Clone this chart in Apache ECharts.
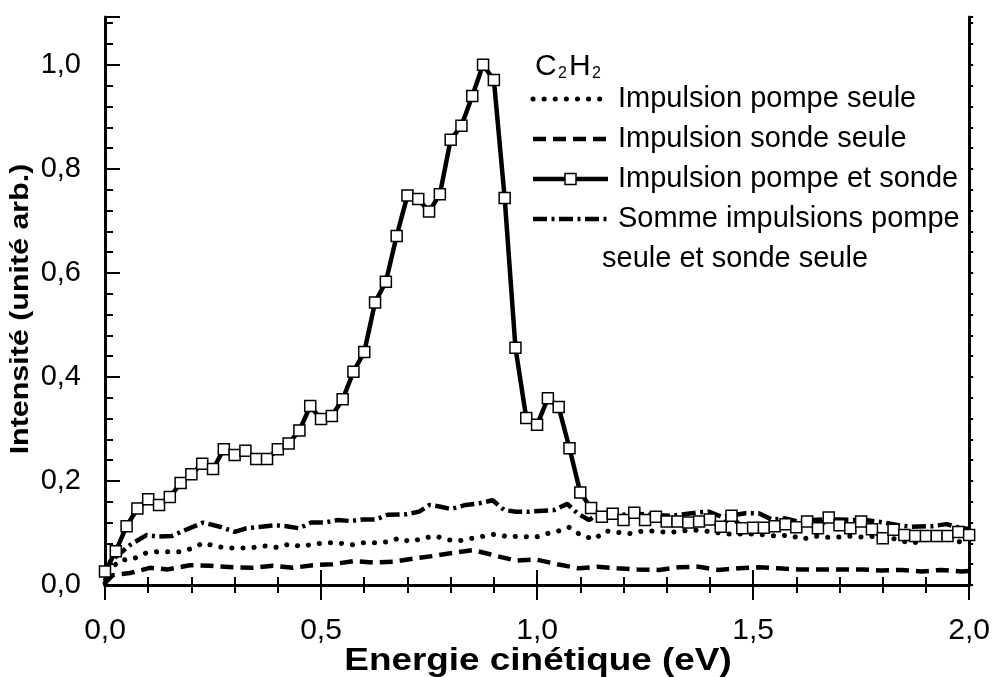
<!DOCTYPE html>
<html>
<head>
<meta charset="utf-8">
<script src="https://cdn.jsdelivr.net/npm/echarts@6/dist/echarts.min.js"></script>
<style>
  html, body { margin: 0; padding: 0; background: #fff; }
  #chart { width: 993px; height: 677px; }
</style>
</head>
<body>
<div id="chart"></div>
<script>
// Energie cinétique (eV) des points mesurés, pompe + sonde
const energiePompeSonde = [
  0.000, 0.025, 0.050, 0.075, 0.100, 0.125, 0.150, 0.175, 0.200, 0.225,
  0.250, 0.275, 0.300, 0.325, 0.350, 0.375, 0.400, 0.425, 0.450, 0.475,
  0.500, 0.525, 0.550, 0.575, 0.600, 0.625, 0.650, 0.675, 0.700, 0.725,
  0.750, 0.775, 0.800, 0.825, 0.850, 0.875, 0.900, 0.925, 0.950, 0.975,
  1.000, 1.025, 1.050, 1.075, 1.100, 1.125, 1.150, 1.175, 1.200, 1.225,
  1.250, 1.275, 1.300, 1.325, 1.350, 1.375, 1.400, 1.425, 1.450, 1.475,
  1.500, 1.525, 1.550, 1.575, 1.600, 1.625, 1.650, 1.675, 1.700, 1.725,
  1.750, 1.775, 1.800, 1.825, 1.850, 1.875, 1.900, 1.925, 1.950, 1.975,
  2.000
];
const intensitePompeSonde = [
  0.026, 0.065, 0.113, 0.147, 0.165, 0.154, 0.169, 0.196, 0.213, 0.233,
  0.223, 0.261, 0.250, 0.258, 0.242, 0.242, 0.261, 0.272, 0.297, 0.344,
  0.319, 0.325, 0.357, 0.410, 0.448, 0.543, 0.583, 0.671, 0.749, 0.742,
  0.718, 0.751, 0.856, 0.883, 0.940, 1.000, 0.971, 0.744, 0.456, 0.321,
  0.308, 0.359, 0.342, 0.263, 0.178, 0.148, 0.131, 0.137, 0.125, 0.139,
  0.125, 0.131, 0.122, 0.122, 0.120, 0.122, 0.126, 0.112, 0.133, 0.109,
  0.110, 0.110, 0.113, 0.117, 0.111, 0.122, 0.109, 0.130, 0.115, 0.109,
  0.122, 0.107, 0.090, 0.106, 0.096, 0.094, 0.094, 0.094, 0.094, 0.102,
  0.096
];

// Impulsion pompe seule
const energiePompe = [
  0.000, 0.004, 0.035, 0.062, 0.096, 0.123, 0.150, 0.173, 0.204, 0.227,
  0.254, 0.281, 0.308, 0.342, 0.370, 0.400, 0.427, 0.454, 0.485, 0.512,
  0.539, 0.570, 0.597, 0.624, 0.654, 0.681, 0.708, 0.735, 0.766, 0.793,
  0.820, 0.851, 0.878, 0.905, 0.935, 0.962, 0.993, 1.024, 1.047, 1.074,
  1.101, 1.132, 1.159, 1.189, 1.216, 1.247, 1.274, 1.301, 1.332, 1.359,
  1.386, 1.443, 1.501, 1.555, 1.586, 1.613, 1.644, 1.670, 1.697, 1.728,
  1.755, 1.786, 1.821, 1.867, 1.898, 1.921, 1.952, 1.978, 2.000
];
const intensitePompe = [
  0.004, 0.023, 0.048, 0.049, 0.062, 0.064, 0.064, 0.064, 0.071, 0.081,
  0.075, 0.071, 0.071, 0.072, 0.075, 0.072, 0.079, 0.074, 0.079, 0.081,
  0.081, 0.077, 0.081, 0.081, 0.083, 0.090, 0.083, 0.090, 0.094, 0.087,
  0.085, 0.090, 0.094, 0.098, 0.092, 0.094, 0.091, 0.099, 0.103, 0.111,
  0.096, 0.088, 0.104, 0.101, 0.099, 0.104, 0.104, 0.101, 0.103, 0.106,
  0.104, 0.098, 0.098, 0.094, 0.096, 0.088, 0.094, 0.092, 0.092, 0.094,
  0.092, 0.094, 0.090, 0.080, 0.087, 0.087, 0.087, 0.083, 0.085
];

// Impulsion sonde seule
const energieSonde = [
  0.000, 0.018, 0.058, 0.104, 0.146, 0.196, 0.242, 0.296, 0.339, 0.389,
  0.435, 0.481, 0.527, 0.577, 0.624, 0.670, 0.716, 0.762, 0.808, 0.851,
  0.882, 0.905, 0.951, 0.997, 1.047, 1.097, 1.139, 1.185, 1.232, 1.282,
  1.328, 1.374, 1.420, 1.467, 1.513, 1.559, 1.605, 1.659, 1.705, 1.751,
  1.797, 1.844, 1.890, 1.936, 1.982, 2.000
];
const intensiteSonde = [
  0.004, 0.019, 0.023, 0.033, 0.030, 0.038, 0.037, 0.034, 0.033, 0.037,
  0.033, 0.038, 0.040, 0.046, 0.043, 0.045, 0.051, 0.056, 0.062, 0.067,
  0.061, 0.056, 0.047, 0.049, 0.040, 0.032, 0.035, 0.032, 0.030, 0.029,
  0.034, 0.035, 0.029, 0.032, 0.034, 0.032, 0.030, 0.030, 0.030, 0.030,
  0.028, 0.029, 0.026, 0.029, 0.026, 0.027
];

// Somme impulsions pompe seule et sonde seule
const energieSomme = [
  0.000, 0.012, 0.058, 0.096, 0.123, 0.154, 0.181, 0.227, 0.266, 0.300,
  0.327, 0.362, 0.393, 0.420, 0.450, 0.477, 0.508, 0.539, 0.568, 0.597,
  0.627, 0.654, 0.697, 0.727, 0.751, 0.774, 0.801, 0.835, 0.866, 0.897,
  0.924, 0.951, 0.982, 1.039, 1.070, 1.093, 1.120, 1.132, 1.162, 1.193,
  1.232, 1.270, 1.309, 1.367, 1.397, 1.428, 1.482, 1.513, 1.543, 1.574,
  1.605, 1.636, 1.667, 1.697, 1.728, 1.759, 1.805, 1.836, 1.867, 1.913,
  1.948, 1.982, 2.000
];
const intensiteSomme = [
  0.008, 0.045, 0.077, 0.096, 0.093, 0.094, 0.104, 0.120, 0.112, 0.102,
  0.109, 0.112, 0.115, 0.113, 0.109, 0.120, 0.120, 0.125, 0.123, 0.126,
  0.126, 0.135, 0.136, 0.141, 0.154, 0.151, 0.146, 0.154, 0.157, 0.163,
  0.144, 0.141, 0.141, 0.144, 0.156, 0.138, 0.125, 0.131, 0.137, 0.135,
  0.137, 0.135, 0.133, 0.139, 0.141, 0.131, 0.138, 0.138, 0.126, 0.128,
  0.122, 0.125, 0.126, 0.126, 0.125, 0.125, 0.120, 0.115, 0.112, 0.113,
  0.117, 0.109, 0.108
];

// Graduations
const xTicks = { min: 0, max: 2, major: 0.5, minorSplit: 5 };
const yTicks = { min: 0, max: 1.092, major: 0.2, minor: 0.04 };

// Textes
const titreX = 'Energie cinétique (eV)';
const titreY = 'Intensité (unité arb.)';
const legendNames = [
  'Impulsion pompe seule',
  'Impulsion sonde seule',
  'Impulsion pompe et sonde',
  'Somme impulsions pompe'
];
const legendSuite = 'seule et sonde seule';

const pairs = (xs, ys) => xs.map((x, i) => [x, ys[i]]);
const virgule = v => v.toFixed(1).replace('.', ',');

const FONT = '"Liberation Sans", Arial, sans-serif';

// Styles de trait, partagés entre courbes et légende
const styles = [
  { width: 5, dash: [0.1, 11], cap: 'round' },
  { width: 4.5, dash: [13, 7], cap: 'butt' },
  { width: 4.5, dash: null, cap: 'butt' },
  { width: 4.5, dash: [14, 4.5, 3, 4.5], cap: 'butt' }
];

const chart = echarts.init(document.getElementById('chart'), null, { renderer: 'canvas' });

const frameLine = { show: true, lineStyle: { color: '#000', width: 3 } };
const tickStyle = { width: 2, color: '#000' };

// Légende dessinée à la main : trait de 75 px puis libellé
const legX0 = 533, legX1 = 608, legText = 618;
const legRows = [99, 139, 179, 219];
const legendGraphics = [];
legendNames.forEach((name, i) => {
  const s = styles[i];
  legendGraphics.push({
    type: 'line', z: 10,
    shape: { x1: legX0, y1: legRows[i], x2: legX1, y2: legRows[i] },
    style: { stroke: '#000', lineWidth: s.width, lineDash: s.dash, lineCap: s.cap }
  });
  if (i === 2) {
    legendGraphics.push({
      type: 'rect', z: 11,
      shape: { x: (legX0 + legX1) / 2 - 5.5, y: legRows[i] - 5.5, width: 11, height: 11 },
      style: { fill: '#fff', stroke: '#000', lineWidth: 1.5 }
    });
  }
  legendGraphics.push({
    type: 'text', z: 10, x: legText, y: legRows[i],
    style: { text: name, font: '29px ' + FONT, fill: '#000', verticalAlign: 'middle', align: 'left' }
  });
});
legendGraphics.push({
  type: 'text', z: 10, x: 602, y: 259,
  style: { text: legendSuite, font: '29px ' + FONT, fill: '#000', verticalAlign: 'middle', align: 'left' }
});

chart.setOption({
  animation: false,
  backgroundColor: '#fff',
  grid: { left: 105, right: 22, top: 17, bottom: 92 },
  xAxis: [
    {
      type: 'value', position: 'bottom',
      min: xTicks.min, max: xTicks.max, interval: xTicks.major,
      axisLine: frameLine,
      axisTick: { show: true, inside: true, length: 15, lineStyle: tickStyle },
      minorTick: { show: true, splitNumber: xTicks.minorSplit, length: 8, lineStyle: tickStyle },
      splitLine: { show: false },
      axisLabel: { formatter: virgule, fontFamily: FONT, fontSize: 30, color: '#000', margin: 31 }
    },
    {
      type: 'value', position: 'top',
      min: xTicks.min, max: xTicks.max, interval: xTicks.major,
      axisLine: frameLine,
      axisTick: { show: true, inside: true, length: 15, lineStyle: tickStyle },
      minorTick: { show: true, splitNumber: xTicks.minorSplit, length: 8, lineStyle: tickStyle },
      splitLine: { show: false },
      axisLabel: { show: false }
    }
  ],
  yAxis: [
    {
      type: 'value', position: 'left',
      min: yTicks.min, max: yTicks.max, interval: yTicks.major,
      axisLine: frameLine,
      axisTick: { show: true, inside: true, length: 15, lineStyle: tickStyle },
      splitLine: { show: false },
      axisLabel: {
        formatter: v => (v > 1.01 ? '' : virgule(v)),
        fontFamily: FONT, fontSize: 29, color: '#000', margin: 24
      }
    },
    {
      // graduations secondaires de l'axe de gauche
      type: 'value', position: 'left', offset: 0,
      min: yTicks.min, max: yTicks.max, interval: yTicks.minor,
      axisLine: { show: false },
      axisTick: { show: true, inside: true, length: 8, lineStyle: tickStyle },
      splitLine: { show: false },
      axisLabel: { show: false }
    },
    {
      type: 'value', position: 'right',
      min: yTicks.min, max: yTicks.max, interval: yTicks.minor,
      axisLine: frameLine,
      axisTick: { show: true, inside: false, length: 4, lineStyle: tickStyle },
      splitLine: { show: false },
      axisLabel: { show: false }
    }
  ],
  graphic: [
    // titres des axes
    {
      type: 'text', x: 538, y: 661, scaleX: 1.19,
      style: { text: titreX, font: 'bold 31px ' + FONT, fill: '#000', align: 'center', verticalAlign: 'middle' }
    },
    {
      type: 'text', x: 21, y: 309, rotation: Math.PI / 2, scaleX: 1.17,
      style: { text: titreY, font: 'bold 26px ' + FONT, fill: '#000', align: 'center', verticalAlign: 'middle' }
    },
    // C2H2 avec indices
    { type: 'text', left: 535, top: 52, style: { text: 'C', font: '30px ' + FONT, fill: '#000' } },
    { type: 'text', left: 558, top: 66, style: { text: '2', font: '16px ' + FONT, fill: '#000' } },
    { type: 'text', left: 569, top: 52, style: { text: 'H', font: '30px ' + FONT, fill: '#000' } },
    { type: 'text', left: 592, top: 66, style: { text: '2', font: '16px ' + FONT, fill: '#000' } }
  ].concat(legendGraphics),
  series: [
    {
      name: legendNames[0], type: 'line',
      data: pairs(energiePompe, intensitePompe),
      showSymbol: false, symbol: 'none',
      lineStyle: { color: '#000', width: styles[0].width, type: styles[0].dash, cap: styles[0].cap },
      z: 2
    },
    {
      name: legendNames[1], type: 'line',
      data: pairs(energieSonde, intensiteSonde),
      showSymbol: false, symbol: 'none',
      lineStyle: { color: '#000', width: styles[1].width, type: styles[1].dash },
      z: 2
    },
    {
      name: legendNames[2], type: 'line',
      data: pairs(energiePompeSonde, intensitePompeSonde),
      symbol: 'rect', symbolSize: 11,
      lineStyle: { color: '#000', width: styles[2].width },
      itemStyle: { color: '#fff', borderColor: '#000', borderWidth: 1.5 },
      z: 4
    },
    {
      name: legendNames[3], type: 'line',
      data: pairs(energieSomme, intensiteSomme),
      showSymbol: false, symbol: 'none',
      lineStyle: { color: '#000', width: styles[3].width, type: styles[3].dash },
      z: 3
    }
  ]
});
</script>
</body>
</html>
